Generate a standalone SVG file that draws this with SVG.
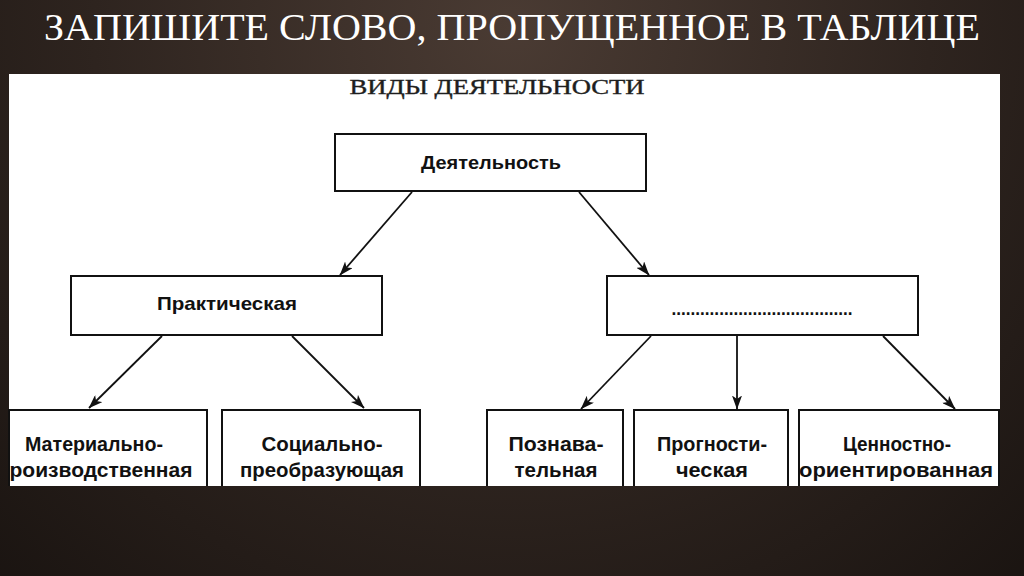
<svg xmlns="http://www.w3.org/2000/svg" width="1024" height="576" viewBox="0 0 1024 576">
<defs>
<radialGradient id="bg" cx="512" cy="30" r="760" gradientUnits="userSpaceOnUse">
<stop offset="0" stop-color="#4a3b33"/>
<stop offset="0.55" stop-color="#2e241f"/>
<stop offset="1" stop-color="#1a1411"/>
</radialGradient>
<marker id="ah" viewBox="0 0 14 10" refX="13.5" refY="5" markerWidth="14" markerHeight="10" orient="auto" markerUnits="userSpaceOnUse">
<path d="M0,0 L14,5 L0,10 L3.5,5 Z" fill="#111"/>
</marker>
<style>
.box{fill:#fff;stroke:#111;stroke-width:2}
.open{fill:#fff;stroke:#111;stroke-width:2}
.lbl{font-family:"Liberation Sans",Arial,sans-serif;font-weight:bold;fill:#111;text-anchor:middle}
.top{font-size:18.5px}
.bot{font-size:21px}
#connectors line{stroke:#111;stroke-width:1.8;marker-end:url(#ah)}
</style>
</defs>
<rect x="0" y="0" width="1024" height="576" fill="url(#bg)"/>
<text x="512" y="40" font-family="'Liberation Serif','Times New Roman',serif" font-size="37" fill="#ffffff" text-anchor="middle" textLength="936" lengthAdjust="spacingAndGlyphs">ЗАПИШИТЕ СЛОВО, ПРОПУЩЕННОЕ В ТАБЛИЦЕ</text>
<rect x="9" y="74" width="991" height="412" fill="#ffffff"/>
<text x="497" y="94" font-family="'Liberation Serif','Times New Roman',serif" font-size="21" fill="#1e1e1e" stroke="#1e1e1e" stroke-width="0.4" text-anchor="middle" textLength="295" lengthAdjust="spacingAndGlyphs">ВИДЫ ДЕЯТЕЛЬНОСТИ</text>

<g id="node-activity">
<rect class="box" x="335" y="134" width="311" height="57"/>
<text class="lbl top" x="491" y="169" textLength="140" lengthAdjust="spacingAndGlyphs">Деятельность</text>
</g>
<g id="node-practical">
<rect class="box" x="71" y="276" width="311" height="59"/>
<text class="lbl top" x="227" y="310" textLength="140" lengthAdjust="spacingAndGlyphs">Практическая</text>
</g>
<g id="node-missing">
<rect class="box" x="607" y="276" width="311" height="59"/>
<text class="lbl" x="762" y="315" font-size="18" textLength="181" lengthAdjust="spacingAndGlyphs">......................................</text>
</g>
<g id="node-material">
<path class="open" d="M9,486 V410 H207 V486"/>
<text class="lbl bot" x="94" y="451" textLength="138" lengthAdjust="spacingAndGlyphs">Материально-</text>
<text class="lbl bot" x="101" y="477" textLength="183" lengthAdjust="spacingAndGlyphs">роизводственная</text>
</g>
<g id="node-social">
<path class="open" d="M222,486 V410 H420 V486"/>
<text class="lbl bot" x="322" y="451" textLength="121" lengthAdjust="spacingAndGlyphs">Социально-</text>
<text class="lbl bot" x="322" y="477" textLength="164" lengthAdjust="spacingAndGlyphs">преобразующая</text>
</g>
<g id="node-cognitive">
<path class="open" d="M487,486 V410 H623 V486"/>
<text class="lbl bot" x="556" y="451" textLength="95" lengthAdjust="spacingAndGlyphs">Познава-</text>
<text class="lbl bot" x="556" y="477" textLength="83" lengthAdjust="spacingAndGlyphs">тельная</text>
</g>
<g id="node-prognostic">
<path class="open" d="M634,486 V410 H788 V486"/>
<text class="lbl bot" x="712" y="451" textLength="110" lengthAdjust="spacingAndGlyphs">Прогности-</text>
<text class="lbl bot" x="712" y="477" textLength="72" lengthAdjust="spacingAndGlyphs">ческая</text>
</g>
<g id="node-value">
<path class="open" d="M799,486 V410 H999 V486"/>
<text class="lbl bot" x="897" y="451" textLength="108" lengthAdjust="spacingAndGlyphs">Ценностно-</text>
<text class="lbl bot" x="896" y="477" textLength="194" lengthAdjust="spacingAndGlyphs">ориентированная</text>
</g>

<g id="connectors">
<line x1="412" y1="192" x2="340" y2="275"/>
<line x1="579" y1="192" x2="649" y2="275"/>
<line x1="162" y1="336" x2="89" y2="408"/>
<line x1="292" y1="336" x2="364" y2="408"/>
<line x1="651" y1="336" x2="581" y2="409"/>
<line x1="737" y1="336" x2="737" y2="409"/>
<line x1="883" y1="336" x2="955" y2="409"/>
</g>
</svg>
